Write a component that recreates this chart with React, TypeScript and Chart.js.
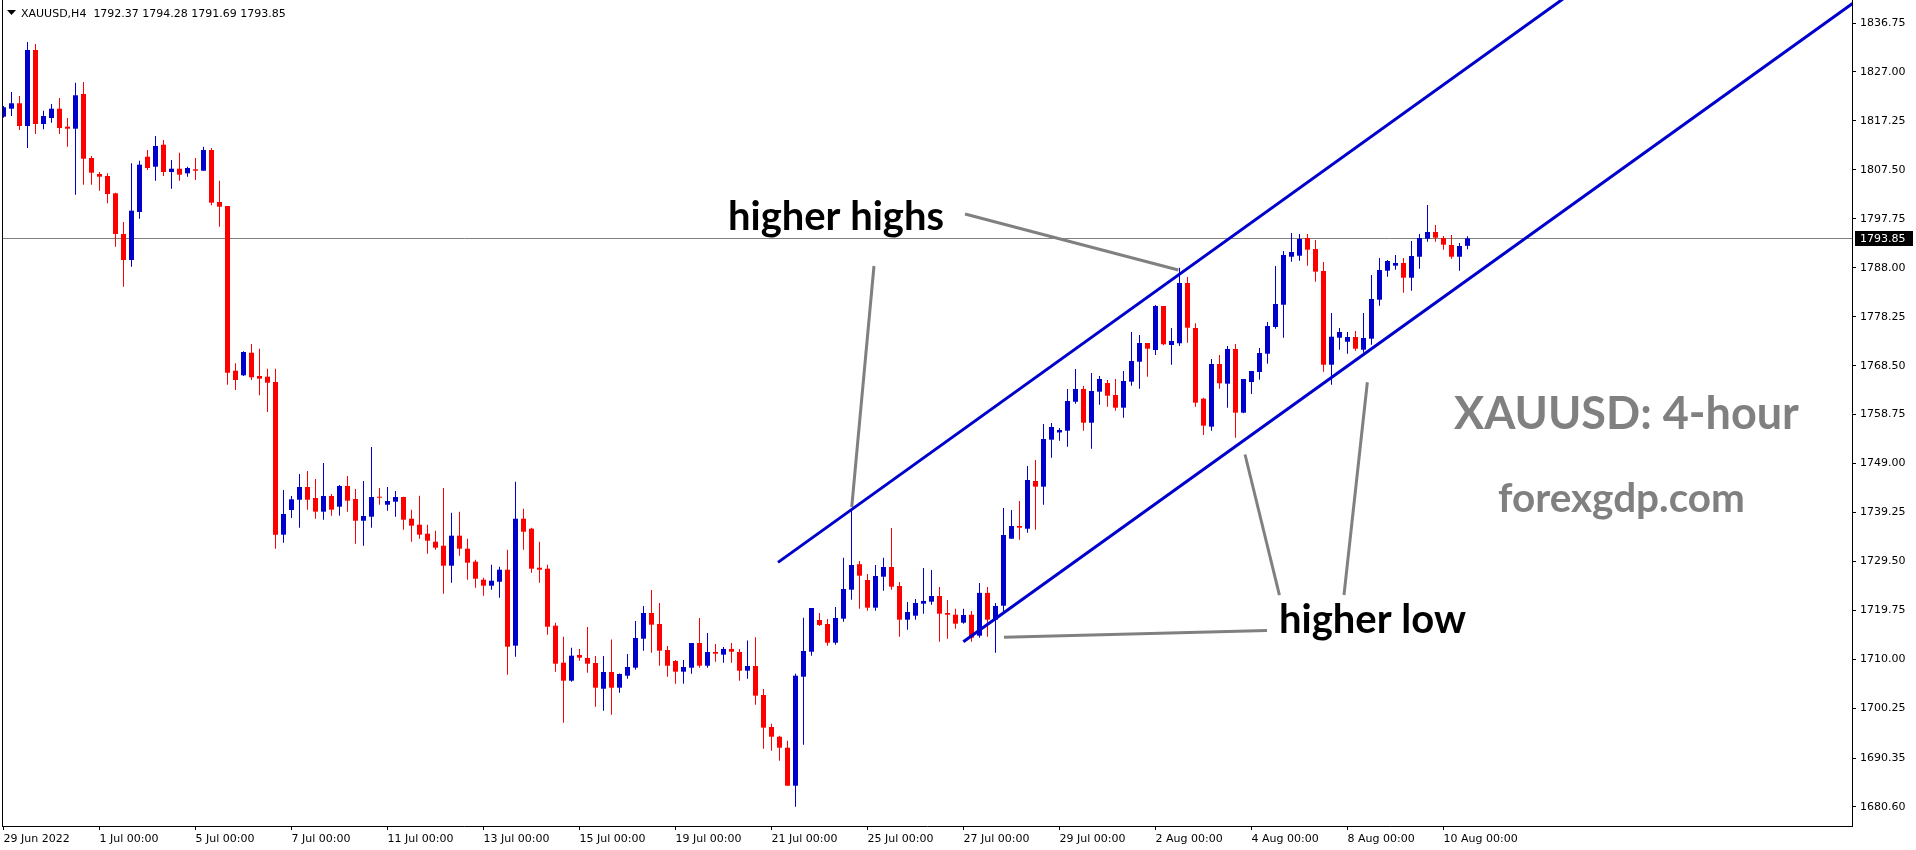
import React, { useEffect, useRef } from 'react';
import { Chart, registerables } from 'chart.js';

Chart.register(...registerables);

// ---------- DATA (XAUUSD H4) ----------
const opens = [
  1818.09, 1819.68, 1820.76, 1816.24, 1831.37, 1816.63, 1817.83, 1819.68, 1816.10, 1815.70,
  1822.61, 1809.86, 1806.67, 1806.28, 1802.83, 1794.73, 1789.55, 1799.11, 1810.12, 1808.13,
  1812.51, 1807.07, 1807.73, 1806.81, 1807.61, 1807.33, 1811.45, 1801.10, 1800.30, 1767.50,
  1766.58, 1771.08, 1766.44, 1766.31, 1765.25, 1734.84, 1739.75, 1741.80, 1744.33, 1742.14,
  1739.42, 1742.54, 1740.41, 1744.53, 1741.95, 1737.62, 1738.42, 1742.40, 1740.81, 1741.41,
  1742.34, 1738.02, 1736.83, 1735.04, 1733.44, 1732.64, 1728.66, 1734.64, 1732.05, 1729.46,
  1725.87, 1724.68, 1725.47, 1727.86, 1712.73, 1738.02, 1736.03, 1728.26, 1728.06, 1716.71,
  1709.34, 1705.76, 1710.88, 1710.28, 1709.28, 1704.16, 1707.49, 1704.36, 1706.75, 1708.34,
  1714.12, 1719.24, 1717.05, 1711.87, 1709.68, 1707.55, 1708.34, 1713.26, 1708.74, 1711.47,
  1710.94, 1712.08, 1711.47, 1707.75, 1708.68, 1702.91, 1696.53, 1694.60, 1692.41, 1684.84,
  1706.55, 1711.53, 1717.85, 1717.05, 1713.32, 1718.11, 1723.88, 1728.96, 1725.81, 1720.30,
  1726.47, 1728.40, 1724.62, 1717.91, 1718.70, 1721.10, 1721.49, 1722.63, 1719.24, 1718.90,
  1717.31, 1718.90, 1714.72, 1723.25, 1717.91, 1720.69, 1734.04, 1736.57, 1736.03, 1745.53,
  1744.40, 1753.76, 1755.20, 1755.55, 1761.32, 1763.86, 1757.14, 1763.32, 1765.05, 1762.66,
  1760.13, 1765.31, 1769.29, 1773.02, 1771.62, 1780.39, 1772.62, 1772.96, 1784.97, 1776.00,
  1761.92, 1756.35, 1768.83, 1764.91, 1771.82, 1759.14, 1765.25, 1767.24, 1770.88, 1776.20,
  1780.64, 1790.20, 1790.40, 1793.93, 1791.73, 1787.36, 1768.69, 1774.07, 1773.27, 1774.21,
  1771.68, 1773.87, 1781.64, 1787.42, 1788.42, 1788.95, 1786.02, 1790.20, 1793.79, 1795.12,
  1793.93, 1792.53, 1790.20, 1792.37,
];
const highs = [
  1820.20, 1823.01, 1822.21, 1832.97, 1832.57, 1819.28, 1820.62, 1821.81, 1817.83, 1824.86,
  1825.00, 1810.26, 1807.07, 1806.81, 1802.95, 1797.12, 1808.81, 1809.33, 1811.45, 1814.24,
  1813.45, 1809.46, 1810.92, 1808.13, 1809.86, 1812.11, 1811.85, 1805.34, 1800.30, 1768.97,
  1771.36, 1772.82, 1771.88, 1767.90, 1767.90, 1743.74, 1742.54, 1746.92, 1747.52, 1745.93,
  1749.11, 1742.94, 1744.73, 1746.53, 1743.94, 1745.53, 1752.30, 1744.14, 1744.33, 1743.54,
  1742.40, 1739.82, 1742.60, 1736.83, 1735.63, 1744.14, 1739.22, 1739.42, 1734.04, 1729.86,
  1726.27, 1728.86, 1728.46, 1731.85, 1745.39, 1740.01, 1736.23, 1733.44, 1728.86, 1717.31,
  1714.52, 1712.33, 1712.08, 1716.45, 1710.67, 1710.67, 1713.98, 1707.20, 1711.07, 1717.65,
  1720.64, 1723.82, 1721.23, 1712.67, 1709.88, 1709.88, 1713.26, 1718.25, 1715.25, 1713.07,
  1712.47, 1713.26, 1712.08, 1713.78, 1714.39, 1704.10, 1697.19, 1694.80, 1693.81, 1707.15,
  1718.31, 1720.24, 1719.24, 1718.04, 1720.44, 1730.25, 1739.60, 1729.59, 1727.01, 1728.80,
  1730.25, 1736.17, 1725.41, 1721.43, 1722.03, 1728.20, 1727.80, 1724.42, 1721.83, 1720.09,
  1720.09, 1719.64, 1725.21, 1724.42, 1721.23, 1740.15, 1739.75, 1741.55, 1748.52, 1749.72,
  1756.88, 1757.08, 1756.09, 1763.86, 1767.84, 1764.45, 1767.04, 1766.44, 1765.65, 1765.85,
  1767.44, 1775.21, 1774.61, 1773.02, 1780.59, 1780.39, 1776.00, 1788.02, 1786.16, 1776.94,
  1762.12, 1769.83, 1770.63, 1772.42, 1772.82, 1765.85, 1767.44, 1772.02, 1777.20, 1788.35,
  1791.34, 1794.93, 1794.73, 1794.73, 1793.53, 1789.15, 1779.00, 1776.00, 1775.21, 1775.41,
  1779.00, 1786.56, 1789.95, 1789.55, 1790.54, 1789.95, 1793.33, 1794.73, 1800.50, 1796.52,
  1794.33, 1794.53, 1792.93, 1794.28,
];
const lows = [
  1817.90, 1818.23, 1815.44, 1811.85, 1814.64, 1815.58, 1816.89, 1814.64, 1812.11, 1802.55,
  1804.54, 1804.54, 1803.35, 1800.84, 1792.20, 1784.23, 1788.21, 1797.77, 1807.47, 1805.34,
  1806.28, 1803.75, 1805.34, 1806.14, 1805.48, 1807.33, 1800.44, 1796.18, 1764.71, 1763.66,
  1766.44, 1765.65, 1762.60, 1759.27, 1732.05, 1733.24, 1738.16, 1736.23, 1739.82, 1738.02,
  1737.82, 1738.62, 1738.62, 1739.42, 1733.05, 1732.64, 1736.23, 1740.81, 1739.62, 1738.42,
  1735.83, 1733.44, 1734.04, 1731.05, 1731.85, 1723.08, 1725.28, 1730.65, 1725.87, 1724.28,
  1722.69, 1723.88, 1722.29, 1706.95, 1710.54, 1731.85, 1727.27, 1725.28, 1714.92, 1707.55,
  1697.39, 1705.56, 1709.74, 1707.35, 1700.58, 1699.78, 1698.99, 1703.37, 1706.16, 1707.95,
  1711.73, 1711.33, 1708.74, 1706.55, 1705.16, 1705.16, 1707.15, 1708.34, 1708.34, 1709.54,
  1709.34, 1709.34, 1705.76, 1706.16, 1700.98, 1692.21, 1691.82, 1689.82, 1684.84, 1680.66,
  1693.01, 1710.74, 1716.65, 1712.73, 1712.93, 1717.51, 1721.89, 1720.09, 1719.70, 1719.70,
  1723.68, 1723.88, 1714.52, 1715.91, 1717.91, 1719.10, 1720.89, 1713.53, 1714.12, 1716.11,
  1717.11, 1713.53, 1714.32, 1714.52, 1711.33, 1719.50, 1734.04, 1733.84, 1735.23, 1735.83,
  1740.81, 1750.17, 1753.56, 1752.36, 1760.93, 1755.55, 1751.96, 1760.73, 1760.33, 1759.53,
  1758.14, 1764.51, 1763.92, 1766.30, 1770.63, 1772.56, 1768.69, 1772.42, 1773.08, 1760.33,
  1754.69, 1755.55, 1763.92, 1760.13, 1754.15, 1759.00, 1762.86, 1765.71, 1768.89, 1775.86,
  1774.07, 1789.21, 1789.41, 1788.41, 1785.23, 1767.30, 1764.71, 1771.68, 1770.88, 1771.48,
  1771.08, 1772.68, 1780.45, 1786.22, 1787.62, 1783.03, 1783.43, 1787.82, 1793.19, 1793.19,
  1791.60, 1789.81, 1787.42, 1791.69,
];
const closes = [
  1819.96, 1820.76, 1816.24, 1831.37, 1816.63, 1818.23, 1819.68, 1815.84, 1815.70, 1822.35,
  1809.72, 1806.93, 1806.14, 1802.69, 1794.73, 1789.55, 1799.37, 1808.53, 1807.87, 1812.25,
  1807.07, 1807.73, 1806.54, 1807.87, 1807.33, 1811.45, 1800.96, 1800.16, 1767.10, 1765.65,
  1771.22, 1766.18, 1765.91, 1765.11, 1734.84, 1738.96, 1741.88, 1744.33, 1741.80, 1739.42,
  1742.54, 1739.82, 1744.53, 1741.61, 1737.62, 1738.56, 1742.34, 1742.20, 1741.55, 1742.34,
  1737.82, 1736.63, 1734.84, 1733.64, 1732.25, 1728.66, 1734.64, 1732.05, 1729.26, 1726.07,
  1724.68, 1725.67, 1727.86, 1712.53, 1738.02, 1735.43, 1728.06, 1727.86, 1716.51, 1709.14,
  1705.76, 1710.74, 1710.34, 1709.14, 1704.36, 1707.49, 1704.36, 1707.09, 1708.48, 1714.26,
  1719.24, 1716.91, 1711.73, 1708.74, 1707.55, 1708.48, 1713.26, 1708.74, 1711.47, 1711.13,
  1712.08, 1711.53, 1707.75, 1708.68, 1702.77, 1696.40, 1694.60, 1692.41, 1684.84, 1706.75,
  1711.67, 1720.24, 1716.85, 1713.32, 1718.25, 1724.02, 1728.80, 1726.67, 1720.30, 1726.61,
  1728.40, 1724.48, 1717.91, 1719.44, 1721.23, 1721.64, 1722.63, 1719.10, 1718.90, 1717.11,
  1718.84, 1714.32, 1723.25, 1717.91, 1720.64, 1734.77, 1736.57, 1736.23, 1745.73, 1744.40,
  1753.90, 1756.29, 1755.69, 1761.46, 1763.86, 1757.14, 1763.46, 1765.85, 1762.52, 1760.13,
  1765.45, 1769.43, 1773.02, 1771.88, 1780.39, 1772.76, 1773.42, 1784.97, 1776.06, 1761.13,
  1756.55, 1768.83, 1764.99, 1771.82, 1759.14, 1765.85, 1767.44, 1771.02, 1776.40, 1780.78,
  1790.54, 1791.14, 1793.73, 1791.60, 1787.22, 1768.69, 1774.27, 1775.21, 1774.21, 1771.88,
  1774.01, 1781.78, 1787.56, 1789.35, 1788.95, 1786.02, 1790.34, 1793.93, 1795.12, 1793.99,
  1792.60, 1790.20, 1792.33, 1793.85,
];

// time axis: bar index of each labelled date, and its text
const dateTickBars = [0, 12, 24, 36, 48, 60, 72, 84, 96, 108, 120, 132, 144, 156, 168, 180];
const dateTickLabels = [
  '29 Jun 2022', '1 Jul 00:00', '5 Jul 00:00', '7 Jul 00:00', '11 Jul 00:00', '13 Jul 00:00',
  '15 Jul 00:00', '19 Jul 00:00', '21 Jul 00:00', '25 Jul 00:00', '27 Jul 00:00', '29 Jul 00:00',
  '2 Aug 00:00', '4 Aug 00:00', '8 Aug 00:00', '10 Aug 00:00',
];
// price axis ticks
const priceTicks = [
  1836.75, 1827.0, 1817.25, 1807.5, 1797.75, 1788.0, 1778.25, 1768.5, 1758.75, 1749.0,
  1739.25, 1729.5, 1719.75, 1710.0, 1700.25, 1690.35, 1680.6,
];
const lastPrice = 1793.85;
const headerText = 'XAUUSD,H4  1792.37 1794.28 1791.69 1793.85';

// drawn objects, in (bar index, price)
const upperChannel = [{ x: 96.81, y: 1729.32 }, { x: 200, y: 1847.33 }];
const lowerChannel = [{ x: 119.98, y: 1713.53 }, { x: 235, y: 1845.07 }];
const pointerHighsRight = [{ x: 120.19, y: 1798.71 }, { x: 146.85, y: 1787.56 }];
const pointerHighsLeft = [{ x: 108.81, y: 1788.35 }, { x: 106.03, y: 1740.35 }];
const pointerLowFlat = [{ x: 125.06, y: 1714.4 }, { x: 157.94, y: 1715.73 }];
const pointerLowLeft = [{ x: 159.49, y: 1722.82 }, { x: 155.19, y: 1750.81 }];
const pointerLowRight = [{ x: 167.56, y: 1722.82 }, { x: 170.48, y: 1765.19 }];

const noteTexts = ['higher highs', 'higher low', 'XAUUSD: 4-hour', 'forexgdp.com'];
const noteBars = [90.56, 159.44, 181.31, 186.81];
const notePrices = [1795.62, 1715.26, 1755.89, 1739.36];

// ---------- STYLE ----------
const BULL = '#0000CD';
const BEAR = '#FF0000';
const CHANNEL = '#0000CD';
const POINTER = '#808080';
const noteColors = ['#000000', '#000000', '#808080', '#808080'];
const noteWidths = [216, 187, 345, 247];
const AXIS_FONT = { family: 'DejaVu Sans', size: 11 };

const overlayPlugin = {
  id: 'overlay',
  beforeDatasetsDraw(chart: any) {
    const { ctx, chartArea, scales } = chart;
    const py = Math.round(scales.y.getPixelForValue(lastPrice)) + 0.5;
    ctx.save();
    ctx.strokeStyle = '#808080';
    ctx.lineWidth = 1;
    ctx.beginPath();
    ctx.moveTo(chartArea.left, py);
    ctx.lineTo(chartArea.right, py);
    ctx.stroke();
    ctx.restore();
  },
  afterDraw(chart: any) {
    const { ctx, chartArea, scales } = chart;
    ctx.save();
    // left frame
    ctx.strokeStyle = '#000';
    ctx.lineWidth = 1;
    ctx.beginPath();
    ctx.moveTo(chartArea.left + 0.5, chartArea.top);
    ctx.lineTo(chartArea.left + 0.5, chartArea.bottom);
    ctx.stroke();

    // header
    ctx.fillStyle = '#000';
    ctx.beginPath();
    ctx.moveTo(7, 10);
    ctx.lineTo(16, 10);
    ctx.lineTo(11.5, 15);
    ctx.closePath();
    ctx.fill();
    ctx.font = '11px "DejaVu Sans"';
    ctx.textBaseline = 'alphabetic';
    ctx.textAlign = 'left';
    ctx.fillText(headerText, 21, 17);

    // last price label
    const py = Math.round(scales.y.getPixelForValue(lastPrice));
    ctx.fillStyle = '#000';
    ctx.fillRect(chartArea.right + 3, py - 7, 58, 15);
    ctx.fillStyle = '#fff';
    ctx.textBaseline = 'middle';
    ctx.fillText(lastPrice.toFixed(2), chartArea.right + 8, py + 1);

    // notes
    ctx.textBaseline = 'alphabetic';
    noteTexts.forEach((t, i) => {
      ctx.font = 'bold 40px Lato';
      const w = ctx.measureText(t).width;
      const size = (40 * noteWidths[i]) / w;
      ctx.font = `bold ${size.toFixed(2)}px Lato`;
      ctx.fillStyle = noteColors[i];
      ctx.fillText(t, scales.x.getPixelForValue(noteBars[i]), scales.y.getPixelForValue(notePrices[i]));
    });
    ctx.restore();
  },
};

export default function App() {
  const canvasRef = useRef<HTMLCanvasElement | null>(null);

  useEffect(() => {
    document.body.style.margin = '0';
    const canvas = canvasRef.current;
    if (!canvas) return;
    const idx = opens.map((_, i) => i);
    const colors = idx.map((i) => (closes[i] >= opens[i] ? BULL : BEAR));

    const lineDs = (data: { x: number; y: number }[], color: string) => ({
      type: 'line' as const,
      data,
      borderColor: color,
      borderWidth: 3,
      pointRadius: 0,
      tension: 0,
      clip: 0,
      order: 0,
      borderCapStyle: 'butt',
    });

    const chart = new Chart(canvas, {
      type: 'bar',
      data: {
        datasets: [
          lineDs(upperChannel, CHANNEL),
          lineDs(lowerChannel, CHANNEL),
          lineDs(pointerHighsRight, POINTER),
          lineDs(pointerHighsLeft, POINTER),
          lineDs(pointerLowFlat, POINTER),
          lineDs(pointerLowLeft, POINTER),
          lineDs(pointerLowRight, POINTER),
          {
            type: 'bar',
            data: idx.map((i) => ({ x: i, y: [Math.min(opens[i], closes[i]), Math.max(opens[i], closes[i])] })),
            backgroundColor: colors,
            borderWidth: 0,
            barThickness: 5,
            grouped: false,
            minBarLength: 1,
            inflateAmount: 0,
            order: 1,
          },
          {
            type: 'bar',
            data: idx.map((i) => ({ x: i, y: [lows[i], highs[i]] })),
            backgroundColor: colors,
            borderWidth: 0,
            barThickness: 1,
            grouped: false,
            minBarLength: 1,
            inflateAmount: 0,
            order: 2,
          },
        ] as any,
      },
      options: {
        responsive: false,
        animation: false,
        events: [],
        layout: { padding: { left: 2, top: 0, right: 0, bottom: 0 }, autoPadding: false },
        plugins: { legend: { display: false }, tooltip: { enabled: false } },
        scales: {
          x: {
            type: 'linear',
            min: -0.1875,
            max: 231.0625,
            offset: false,
            bounds: 'data',
            grid: { display: true, drawOnChartArea: false, drawTicks: true, tickLength: 4, color: '#000', offset: false },
            border: { display: true, color: '#000' },
            ticks: {
              autoSkip: false,
              maxRotation: 0,
              minRotation: 0,
              align: 'start',
              padding: 3,
              color: '#000',
              font: AXIS_FONT,
              callback: (_v: any, i: number) => dateTickLabels[i],
            },
            afterBuildTicks: (s: any) => {
              s.ticks = dateTickBars.map((v) => ({ value: v }));
            },
            afterFit: (s: any) => {
              s.height = 24;
              s.paddingLeft = 0;
              s.paddingRight = 0;
            },
          },
          y: {
            type: 'linear',
            position: 'right',
            min: 1676.815,
            max: 1841.331,
            bounds: 'data',
            grid: { display: true, drawOnChartArea: false, drawTicks: true, tickLength: 4, color: '#000' },
            border: { display: true, color: '#000' },
            ticks: {
              autoSkip: false,
              crossAlign: 'near',
              padding: 4,
              color: '#000',
              font: AXIS_FONT,
              callback: (v: any) => Number(v).toFixed(2),
            },
            afterBuildTicks: (s: any) => {
              s.ticks = priceTicks.map((v) => ({ value: v }));
            },
            afterFit: (s: any) => {
              s.width = 64;
              s.paddingTop = 0;
              s.paddingBottom = 0;
            },
          },
        },
      } as any,
      plugins: [overlayPlugin],
    });
    return () => chart.destroy();
  }, []);

  return (
    <div style={{ width: 1916, height: 850, background: '#fff' }}>
      <canvas ref={canvasRef} width={1916} height={850} style={{ display: 'block' }} />
    </div>
  );
}
